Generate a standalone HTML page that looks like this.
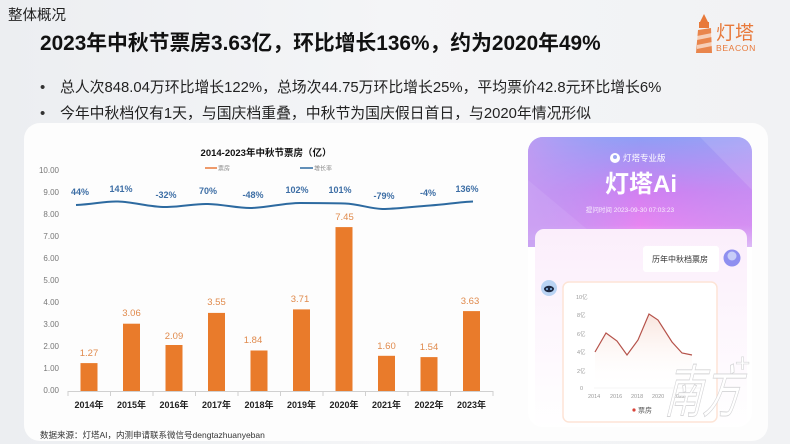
<!DOCTYPE html>
<html>
<head>
<meta charset="utf-8">
<style>
html,body{margin:0;padding:0;width:790px;height:444px;overflow:hidden;background:#eff0f3;}
svg{display:block;}
text{font-family:"Liberation Sans","Noto Sans CJK SC",sans-serif;}
</style>
</head>
<body>
<svg width="790" height="444" viewBox="0 0 790 444" xmlns="http://www.w3.org/2000/svg">
<defs>
  <linearGradient id="bg" x1="0" y1="0" x2="1" y2="0">
    <stop offset="0" stop-color="#eceef1"/>
    <stop offset="0.5" stop-color="#f4f5f7"/>
    <stop offset="1" stop-color="#f1f2f4"/>
  </linearGradient>
  <linearGradient id="ph" x1="0" y1="0" x2="0" y2="1">
    <stop offset="0" stop-color="#8f9ef5"/>
    <stop offset="0.5" stop-color="#d27ff1"/>
    <stop offset="0.8" stop-color="#e785f1"/>
    <stop offset="1" stop-color="#f4cdf6"/>
  </linearGradient>
  <linearGradient id="phl" x1="0" y1="0" x2="1" y2="0">
    <stop offset="0" stop-color="#c39cf2" stop-opacity="0.85"/>
    <stop offset="0.5" stop-color="#9aa8f7" stop-opacity="0"/>
    <stop offset="1" stop-color="#b9a0f5" stop-opacity="0.4"/>
  </linearGradient>
  <linearGradient id="card" x1="0" y1="0" x2="0" y2="1">
    <stop offset="0" stop-color="#fbeefb"/>
    <stop offset="1" stop-color="#ffffff"/>
  </linearGradient>
  <linearGradient id="area" x1="0" y1="0" x2="0" y2="1">
    <stop offset="0" stop-color="#f6d9cf" stop-opacity="0.7"/>
    <stop offset="1" stop-color="#ffffff" stop-opacity="0"/>
  </linearGradient>
  <clipPath id="phclip"><rect x="528" y="137" width="224" height="290" rx="15"/></clipPath>
</defs>

<rect x="0" y="0" width="790" height="444" fill="url(#bg)"/>
<!-- white panel -->
<rect x="24" y="123" width="744" height="318" rx="16" fill="#fdfdfd"/>

<!-- header -->
<text x="8" y="20" font-size="14.5" fill="#222">整体概况</text>
<text x="40" y="50" font-size="20.8" font-weight="bold" fill="#111">2023年中秋节票房3.63亿，环比增长136%，约为2020年49%</text>
<text x="40" y="92" font-size="15" fill="#333">•</text>
<text x="60" y="92" font-size="14.85" fill="#222">总人次848.04万环比增长122%，总场次44.75万环比增长25%，平均票价42.8元环比增长6%</text>
<text x="40" y="118" font-size="15" fill="#333">•</text>
<text x="60" y="118" font-size="14.85" fill="#222">今年中秋档仅有1天，与国庆档重叠，中秋节为国庆假日首日，与2020年情况形似</text>

<!-- logo -->
<g fill="#e8793a">
  <path d="M700 22 L704 14 L708 22 Z"/>
  <rect x="699" y="22" width="10" height="6"/>
  <path d="M698 30 L711 28 L712 53 L696 53 Z" opacity="0.9"/>
  <path d="M697 36 L712 33 L712 37 L697 40 Z" fill="#fff" opacity="0.6"/>
  <path d="M697 45 L712 42 L712 46 L697 49 Z" fill="#fff" opacity="0.6"/>
  <text x="716" y="39" font-size="19" fill="#e8793a">灯塔</text>
  <text x="716" y="51" font-size="8.6" fill="#e8793a" letter-spacing="0.6">BEACON</text>
</g>

<!-- chart title & legend -->
<text x="266" y="156" font-size="9.5" font-weight="bold" fill="#111" text-anchor="middle">2014-2023年中秋节票房（亿）</text>
<line x1="205" y1="168" x2="217" y2="168" stroke="#e8793a" stroke-width="1.5"/>
<text x="218" y="170.5" font-size="6" fill="#888">票房</text>
<line x1="300" y1="168" x2="313" y2="168" stroke="#2d6aa0" stroke-width="1.5"/>
<text x="314" y="170.5" font-size="6" fill="#888">增长率</text>

<!-- y labels -->
<g font-size="8" fill="#777" text-anchor="end">
  <text x="59" y="173">10.00</text>
  <text x="59" y="195">9.00</text>
  <text x="59" y="217">8.00</text>
  <text x="59" y="239">7.00</text>
  <text x="59" y="261">6.00</text>
  <text x="59" y="283">5.00</text>
  <text x="59" y="305">4.00</text>
  <text x="59" y="327">3.00</text>
  <text x="59" y="349">2.00</text>
  <text x="59" y="371">1.00</text>
  <text x="59" y="393">0.00</text>
</g>

<!-- bars -->
<g fill="#e97b2b">
  <rect x="80.5" y="363.1" width="17" height="27.9"/>
  <rect x="123" y="323.7" width="17" height="67.3"/>
  <rect x="165.5" y="345.0" width="17" height="46.0"/>
  <rect x="208" y="312.9" width="17" height="78.1"/>
  <rect x="250.5" y="350.5" width="17" height="40.5"/>
  <rect x="293" y="309.4" width="17" height="81.6"/>
  <rect x="335.5" y="227.1" width="17" height="163.9"/>
  <rect x="378" y="355.8" width="17" height="35.2"/>
  <rect x="420.5" y="357.1" width="17" height="33.9"/>
  <rect x="463" y="311.1" width="17" height="79.9"/>
</g>
<g font-size="9.5" fill="#e08a4c" text-anchor="middle">
  <text x="89" y="356">1.27</text>
  <text x="131.5" y="316">3.06</text>
  <text x="174" y="339">2.09</text>
  <text x="216.5" y="305">3.55</text>
  <text x="253" y="343">1.84</text>
  <text x="300" y="302">3.71</text>
  <text x="344.5" y="220">7.45</text>
  <text x="386.5" y="349">1.60</text>
  <text x="429" y="350">1.54</text>
  <text x="470" y="304">3.63</text>
</g>

<!-- axis -->
<line x1="68" y1="391.5" x2="493" y2="391.5" stroke="#d0d0d0" stroke-width="1"/>
<g stroke="#d0d0d0" stroke-width="1">
  <line x1="68" y1="391" x2="68" y2="396"/>
  <line x1="110.5" y1="391" x2="110.5" y2="396"/>
  <line x1="153" y1="391" x2="153" y2="396"/>
  <line x1="195.5" y1="391" x2="195.5" y2="396"/>
  <line x1="238" y1="391" x2="238" y2="396"/>
  <line x1="280.5" y1="391" x2="280.5" y2="396"/>
  <line x1="323" y1="391" x2="323" y2="396"/>
  <line x1="365.5" y1="391" x2="365.5" y2="396"/>
  <line x1="408" y1="391" x2="408" y2="396"/>
  <line x1="450.5" y1="391" x2="450.5" y2="396"/>
  <line x1="493" y1="391" x2="493" y2="396"/>
</g>
<g font-size="9" font-weight="bold" fill="#222" text-anchor="middle">
  <text x="89" y="408">2014年</text>
  <text x="131.5" y="408">2015年</text>
  <text x="174" y="408">2016年</text>
  <text x="216.5" y="408">2017年</text>
  <text x="259" y="408">2018年</text>
  <text x="301.5" y="408">2019年</text>
  <text x="344" y="408">2020年</text>
  <text x="386.5" y="408">2021年</text>
  <text x="429" y="408">2022年</text>
  <text x="471.5" y="408">2023年</text>
</g>

<!-- growth line -->
<path d="M76 205 C95 204 105 201 118 201.5 C135 202 150 207.5 167 207 C185 206.5 195 203.5 208 204 C225 204.5 238 208.5 252 208 C270 207 285 203 300 203 C320 203 330 203 345 203.5 C360 204 372 209.5 385 209 C400 208.5 415 206.5 430 205.5 C445 204.5 460 202 473 201.5" fill="none" stroke="#2d6aa0" stroke-width="2"/>
<g font-size="9" font-weight="bold" fill="#3d6ea5" text-anchor="middle">
  <text x="80" y="195">44%</text>
  <text x="121" y="192">141%</text>
  <text x="166" y="198">-32%</text>
  <text x="208" y="194">70%</text>
  <text x="253" y="198">-48%</text>
  <text x="297" y="193">102%</text>
  <text x="340" y="193">101%</text>
  <text x="384" y="199">-79%</text>
  <text x="428" y="196">-4%</text>
  <text x="467" y="192">136%</text>
</g>

<text x="40" y="438" font-size="8.5" fill="#333">数据来源：灯塔AI，内测申请联系微信号dengtazhuanyeban</text>

<!-- phone screenshot -->
<g clip-path="url(#phclip)">
  <rect x="528" y="137" width="224" height="290" fill="#ffffff"/>
  <rect x="528" y="137" width="224" height="110" fill="url(#ph)"/>
  <rect x="528" y="137" width="224" height="110" fill="url(#phl)"/>
  <path d="M600 137 L700 137 L752 190 L752 137 Z" fill="#ffffff" opacity="0.12"/>
  <path d="M528 180 L600 240 L528 240 Z" fill="#ffffff" opacity="0.08"/>
  <rect x="535" y="229" width="212" height="200" rx="9" fill="url(#card)"/>
</g>
<circle cx="615" cy="158" r="5" fill="#ffffff"/>
<circle cx="615" cy="157" r="2" fill="#9ca6f3"/>
<text x="623" y="161" font-size="8.5" fill="#ffffff">灯塔专业版</text>
<text x="641" y="192" font-size="24" font-weight="bold" fill="#ffffff" text-anchor="middle">灯塔Ai</text>
<text x="630" y="212" font-size="6.5" fill="#ffffff" fill-opacity="0.85" text-anchor="middle">提问时间 2023-09-30 07:03:23</text>

<rect x="643" y="246" width="76" height="26" rx="3" fill="#ffffff"/>
<text x="652" y="262" font-size="8" fill="#333">历年中秋档票房</text>
<circle cx="732" cy="258" r="8.5" fill="#8f8ff0"/>
<circle cx="732" cy="256" r="4.5" fill="#c8cdf8"/>

<circle cx="549" cy="288" r="8" fill="#b9d3f3"/>
<ellipse cx="549" cy="289" rx="5" ry="3.2" fill="#1f2a44"/>
<circle cx="547" cy="289" r="1" fill="#8fc2f5"/>
<circle cx="551" cy="289" r="1" fill="#8fc2f5"/>

<rect x="563" y="282" width="154" height="140" rx="6" fill="#ffffff" stroke="#fde4d6" stroke-width="1.5"/>
<g font-size="5.5" fill="#9a9a9a">
  <text x="576" y="299">10亿</text>
  <text x="577" y="317">8亿</text>
  <text x="577" y="336">6亿</text>
  <text x="577" y="354">4亿</text>
  <text x="577" y="373">2亿</text>
  <text x="580" y="390">0</text>
  <text x="588" y="398">2014</text>
  <text x="610" y="398">2016</text>
  <text x="631" y="398">2018</text>
  <text x="652" y="398">2020</text>
  <text x="673" y="398">2022</text>
</g>
<line x1="594" y1="388" x2="700" y2="388" stroke="#eee" stroke-width="0.6"/>
<path d="M595 352 L606 333 L617 341 L627 355 L638 340 L649 314 L658 320 L672 342 L682 353 L692 355 L692 388 L595 388 Z" fill="url(#area)"/>
<path d="M595 352 L606 333 L617 341 L627 355 L638 340 L649 314 L658 320 L672 342 L682 353 L692 355" fill="none" stroke="#b5524a" stroke-width="1.2"/>
<circle cx="634" cy="410" r="1.6" fill="#d9443a"/>
<text x="638" y="412.5" font-size="7" fill="#555">票房</text>

<!-- watermark -->
<g transform="translate(664,412) skewX(-14) scale(1,1.5)">
  <text x="0" y="0" font-size="38" fill="#ffffff" fill-opacity="0.92" stroke="#d4d4d6" stroke-width="0.6" font-family="Liberation Serif, Noto Serif CJK SC, serif">南方</text>
</g>
<text x="735" y="372" font-size="26" fill="#ffffff" fill-opacity="0.95" stroke="#d6d6d8" stroke-width="0.6">+</text>
</svg>
</body>
</html>
